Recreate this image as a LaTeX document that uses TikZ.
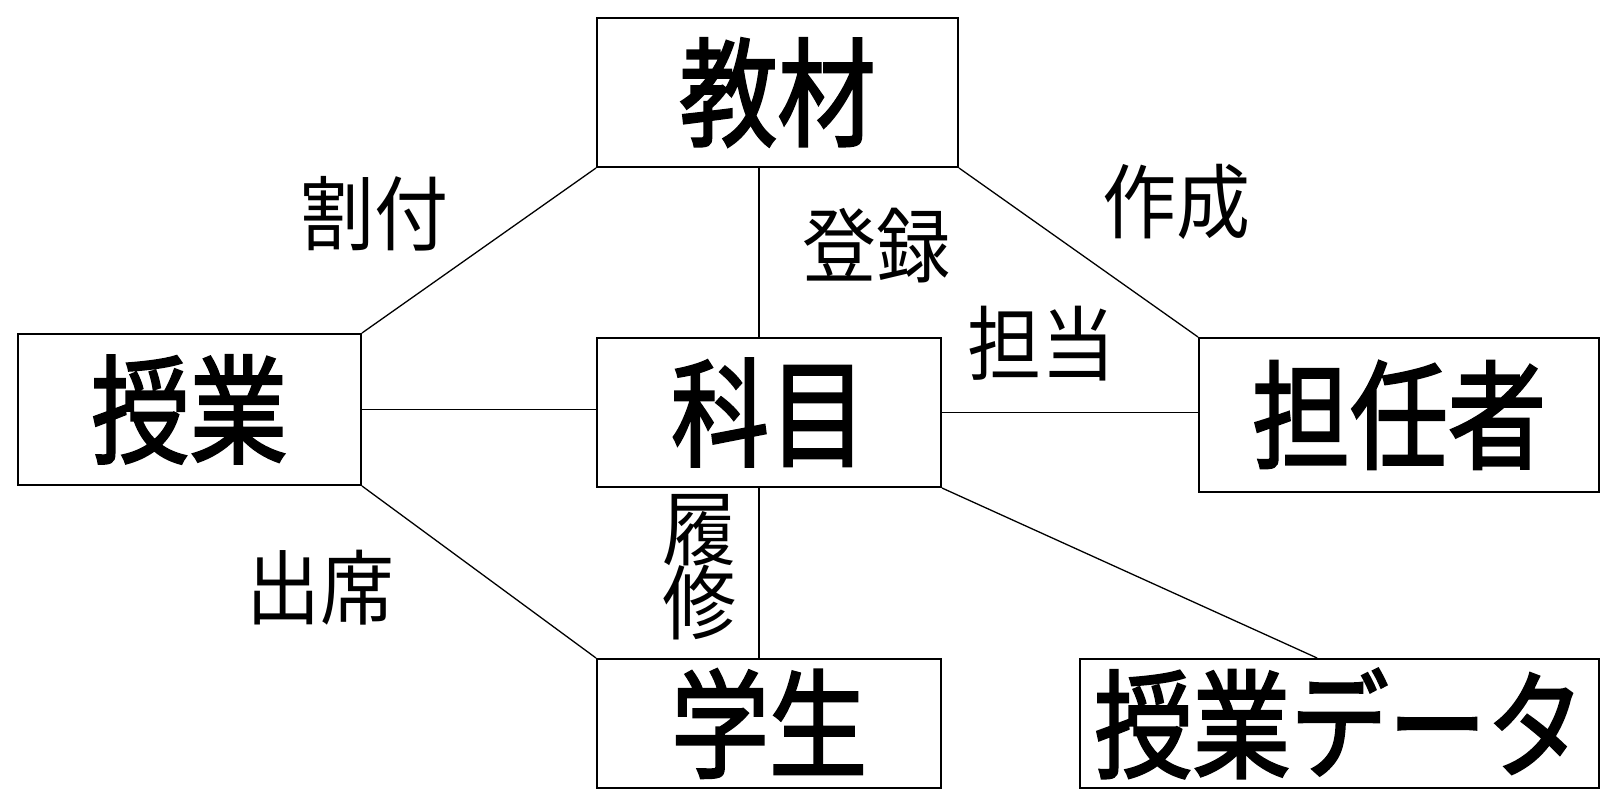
\documentclass[tikz,border=0pt]{standalone}
\usepackage{graphicx}
\usepackage{fontspec}
\newfontfamily\cjk{Noto Sans CJK JP}
\newfontfamily\cjkmid{Noto Sans CJK JP}[FakeBold=2.2]
\usetikzlibrary{calc}
\newcommand\tallbox[1]{\scalebox{1}[1.2]{#1}}
\tikzset{
  entity/.style={draw, line width=2pt, rectangle, inner sep=0pt, align=center,
    font=\cjkmid\fontsize{98}{104}\selectfont},
  rel/.style={font=\cjk\fontsize{74}{80}\selectfont, inner sep=0pt, align=center},
  conn/.style={line width=1.3pt}
}
\begin{document}
\begin{tikzpicture}[x=1pt,y=-1pt]
\useasboundingbox[fill=white] (0,0) rectangle (1620,808);
% entities
\node[entity, minimum width=361pt, minimum height=149pt] (kyozai) at (777.5,92.5) {\tallbox{教材}};
\node[entity, minimum width=343pt, minimum height=151pt] (jugyo) at (189.5,409.5) {\tallbox{授業}};
\node[entity, minimum width=344pt, minimum height=149pt] (kamoku) at (769,412.5) {\tallbox{科目}};
\node[entity, minimum width=400pt, minimum height=154pt] (tannin) at (1399,415) {\tallbox{担任者}};
\node[entity, minimum width=344pt, minimum height=129pt] (gakusei) at (769,723.5) {\tallbox{学生}};
\node[entity, minimum width=519pt, minimum height=129pt] (jdata) at (1339.5,723.5) {\tallbox{授業データ}};
% connectors
\draw[conn] (kyozai.south west) -- (jugyo.north east);
\draw[conn] ($(kamoku.north)+(-10,0)$) coordinate (kt) -- (kt |- kyozai.south);
\draw[conn] (kyozai.south east) -- (tannin.north west);
\draw[conn] (jugyo.east) -- (jugyo.east -| kamoku.west);
\draw[conn] (kamoku.east) -- (kamoku.east -| tannin.west);
\draw[conn] (jugyo.south east) -- (gakusei.north west);
\draw[conn] ($(kamoku.south)+(-10,0)$) coordinate (kb) -- (kb |- gakusei.north);
\draw[conn] (kamoku.south east) -- ($(jdata.north west)!0.457!(jdata.north east)$) coordinate (dt);
% labels
\node[rel] (lwari) at (374,214) {\scalebox{1}[1.1]{割付}};
\node[rel] (ltoroku) at (876,246) {\scalebox{1}[1.1]{登録}};
\node[rel] (lsakusei) at (1176,202) {\scalebox{1}[1.1]{作成}};
\node[rel] (ltanto) at (1041,344) {\scalebox{1}[1.1]{担当}};
\node[rel] (lshusseki) at (320,588) {\scalebox{1}[1.1]{出席}};
\node[rel] (lrishu) at (699,567) {\scalebox{1}[1.1]{\shortstack{履\\[-4pt]修}}};
\end{tikzpicture}
\end{document}
